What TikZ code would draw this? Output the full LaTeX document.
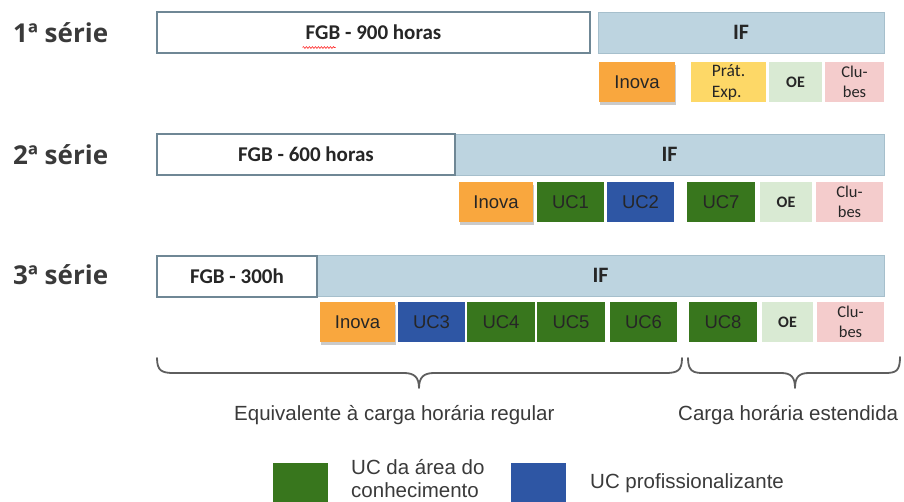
\documentclass[tikz,border=0pt]{standalone}
\usepackage{fontspec}
\setmainfont{Liberation Sans}
\newfontfamily\headfont{Open Sans}
\newfontfamily\calfont{Carlito}
\usetikzlibrary{shadows,decorations.pathmorphing}
\definecolor{fgbline}{HTML}{6F8795}
\definecolor{iffill}{HTML}{BDD4E0}
\definecolor{ifline}{HTML}{A6BFCC}
\definecolor{inovac}{HTML}{F9A73E}
\definecolor{pratc}{HTML}{FDD867}
\definecolor{oec}{HTML}{D9EAD3}
\definecolor{clubc}{HTML}{F4CCCC}
\definecolor{ucg}{HTML}{38761D}
\definecolor{ucb}{HTML}{2E56A4}
\definecolor{txt}{HTML}{262626}
\definecolor{gtxt}{HTML}{3A3A3A}
\definecolor{bracec}{HTML}{5E5E5E}
\tikzset{
  basebox/.style={anchor=north west, inner sep=0pt, outer sep=0pt, minimum height=40pt, text=txt},
  fgbbox/.style={basebox, draw=fgbline, line width=2.8pt, fill=white, minimum height=41pt,
    font=\calfont\bfseries\fontsize{21}{24}\selectfont},
  ifbox/.style={basebox, draw=ifline, line width=1pt, fill=iffill, minimum height=41pt,
    font=\calfont\bfseries\fontsize{22}{25}\selectfont},
  inovabox/.style={basebox, fill=inovac, font=\fontsize{18.5}{20}\selectfont,
    drop shadow={shadow xshift=1pt, shadow yshift=-2.5pt, opacity=0.35, fill=black!60}},
  pratbox/.style={basebox, fill=pratc, align=left, font=\calfont\fontsize{17.5}{21}\selectfont},
  oebox/.style={basebox, fill=oec, font=\calfont\bfseries\fontsize{16}{18}\selectfont},
  clubbox/.style={basebox, fill=clubc, align=center, font=\calfont\fontsize{16.5}{20.5}\selectfont},
  ucgbox/.style={basebox, fill=ucg, text=black!85, font=\fontsize{18.5}{20}\selectfont},
  ucbbox/.style={basebox, fill=ucb, text=black!85, font=\fontsize{18.5}{20}\selectfont},
  serie/.style={anchor=west, inner sep=0pt, text=gtxt, font=\headfont\bfseries\fontsize{26}{30}\selectfont},
  note/.style={anchor=base west, inner sep=0pt, text=gtxt, font=\fontsize{20.5}{24}\selectfont},
  bracepath/.style={draw=bracec, line width=1.8pt, line cap=round, line join=round},
  legsq/.style={anchor=north west, inner sep=0pt, outer sep=0pt, minimum width=55pt, minimum height=42pt}
}
\begin{document}
\begin{tikzpicture}[x=1pt,y=-1pt]
\useasboundingbox (0,0) rectangle (904,501);
% headings
\node[serie] (s1) at (13,33) {1ª série};
\node[serie] (s2) at (13,155) {2ª série};
\node[serie] (s3) at (13,275) {3ª série};
% row 1
\node[ifbox, minimum width=286pt] (if1) at (598,12) {IF};
\node[fgbbox, minimum width=433pt] (fgb1) at (157,12) {FGB - 900 horas};
\draw[red!85, line width=0.6pt, decorate, decoration={snake, amplitude=0.9pt, segment length=3pt}]
  ([shift={(-71,15)}]fgb1.center) -- ([shift={(-38,15)}]fgb1.center);
\node[inovabox, minimum width=76pt] (inova1) at (599,62) {Inova};
\node[pratbox, minimum width=75pt] (prat1) at (691,62) {Prát.\\Exp.};
\node[oebox, minimum width=53pt] (oe1) at (769,62) {OE};
\node[clubbox, minimum width=59pt] (club1) at (825,62) {Clu-\\bes};
% row 2
\node[ifbox, minimum width=429pt] (if2) at (455,134) {IF};
\node[fgbbox, minimum width=298pt] (fgb2) at (157,134) {FGB - 600 horas};
\node[inovabox, minimum width=74pt] (inova2) at (459,182) {Inova};
\node[ucgbox, minimum width=67pt] (uc1) at (537,182) {UC1};
\node[ucbbox, minimum width=67pt] (uc2) at (607,182) {UC2};
\node[ucgbox, minimum width=68pt] (uc7) at (687,182) {UC7};
\node[oebox, minimum width=52pt] (oe2) at (760,182) {OE};
\node[clubbox, minimum width=67pt] (club2) at (816,182) {Clu-\\bes};
% row 3
\node[ifbox, minimum width=567pt] (if3) at (317,255) {IF};
\node[fgbbox, minimum width=160pt] (fgb3) at (157,256) {FGB - 300h};
\node[inovabox, minimum width=75pt] (inova3) at (320,302) {Inova};
\node[ucbbox, minimum width=67pt] (uc3) at (398,302) {UC3};
\node[ucgbox, minimum width=68pt] (uc4) at (467,302) {UC4};
\node[ucgbox, minimum width=68pt] (uc5) at (537,302) {UC5};
\node[ucgbox, minimum width=67pt] (uc6) at (610,302) {UC6};
\node[ucgbox, minimum width=68pt] (uc8) at (689,302) {UC8};
\node[oebox, minimum width=51pt] (oe3) at (762,302) {OE};
\node[clubbox, minimum width=67pt] (club3) at (817,302) {Clu-\\bes};
% braces
\draw[bracepath] (157,358) .. controls (157,371) and (162,373) .. (174,373) -- (404,373)
  .. controls (414,373) and (419,377) .. (419,388)
  .. controls (419,377) and (424,373) .. (434,373) -- (665,373)
  .. controls (677,373) and (682,371) .. (682,358);
\draw[bracepath] (688,358) .. controls (688,371) and (693,373) .. (703,373) -- (781,373)
  .. controls (791,373) and (795,377) .. (795,388)
  .. controls (795,377) and (799,373) .. (809,373) -- (885,373)
  .. controls (896,373) and (900,371) .. (900,357);
\node[note] (reg) at (234,420) {Equivalente à carga horária regular};
\node[note] (ext) at (678,420) {Carga horária estendida};
% legend
\node[legsq, fill=ucg] (lg) at (273,463) {};
\node[note] (lgt1) at (351,474) {UC da área do};
\node[note] (lgt2) at (351,497) {conhecimento};
\node[legsq, fill=ucb] (lb) at (511,463) {};
\node[note] (lbt) at (590,488) {UC profissionalizante};
\end{tikzpicture}
\end{document}
